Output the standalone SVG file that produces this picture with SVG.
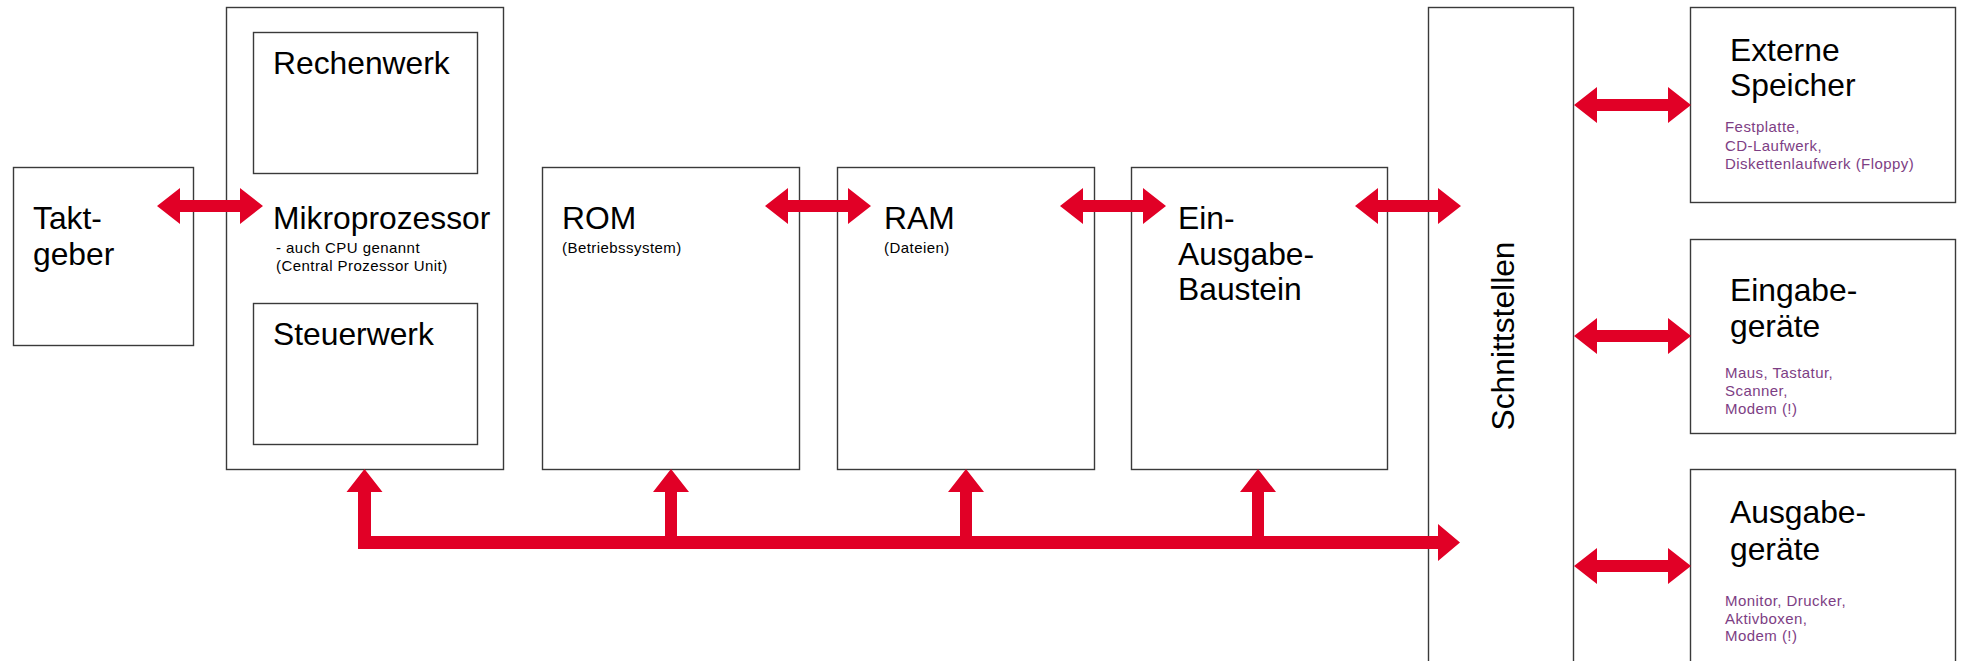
<svg xmlns="http://www.w3.org/2000/svg" width="1964" height="661" viewBox="0 0 1964 661">
<style>
.box{fill:#fff;stroke:#3a3a3a;stroke-width:1.4}
.big{font-family:"Liberation Sans",Arial,sans-serif;font-size:31.8px;fill:#000}
.small{font-family:"Liberation Sans",Arial,sans-serif;font-size:15px;fill:#000;letter-spacing:0.45px}
.purple{font-family:"Liberation Sans",Arial,sans-serif;font-size:15px;fill:#7d3e84;letter-spacing:0.45px}
.arr{fill:#e10026;stroke:none}
</style>
<rect width="1964" height="661" fill="#fff"/>
<g id="taktgeber">
<rect class="box" x="13.5" y="167.5" width="180" height="178"/>
<text class="big" x="33" y="229">Takt-</text>
<text class="big" x="33" y="265">geber</text>
</g>
<g id="mikroprozessor">
<rect class="box" x="226.5" y="7.5" width="277" height="462"/>
<text class="big" x="273" y="229">Mikroprozessor</text>
<text class="small" x="276" y="253">- auch CPU genannt</text>
<text class="small" x="276" y="271">(Central Prozessor Unit)</text>
</g>
<g id="rechenwerk">
<rect class="box" x="253.5" y="32.5" width="224" height="141"/>
<text class="big" x="273" y="74">Rechenwerk</text>
</g>
<g id="steuerwerk">
<rect class="box" x="253.5" y="303.5" width="224" height="141"/>
<text class="big" x="273" y="345">Steuerwerk</text>
</g>
<g id="rom">
<rect class="box" x="542.5" y="167.5" width="257" height="302"/>
<text class="big" x="562" y="229">ROM</text>
<text class="small" x="562" y="253">(Betriebssystem)</text>
</g>
<g id="ram">
<rect class="box" x="837.5" y="167.5" width="257" height="302"/>
<text class="big" x="884" y="229">RAM</text>
<text class="small" x="884" y="253">(Dateien)</text>
</g>
<g id="ein-ausgabe-baustein">
<rect class="box" x="1131.5" y="167.5" width="256" height="302"/>
<text class="big" x="1178" y="229">Ein-</text>
<text class="big" x="1178" y="264.5">Ausgabe-</text>
<text class="big" x="1178" y="300">Baustein</text>
</g>
<g id="schnittstellen">
<rect class="box" x="1428.5" y="7.5" width="145" height="700"/>
<text class="big" x="1514" y="336" text-anchor="middle" transform="rotate(-90 1514 336)">Schnittstellen</text>
</g>
<g id="externe-speicher">
<rect class="box" x="1690.5" y="7.5" width="265" height="195"/>
<text class="big" x="1730" y="61">Externe</text>
<text class="big" x="1730" y="96">Speicher</text>
<text class="purple" x="1725" y="132">Festplatte,</text>
<text class="purple" x="1725" y="150.5">CD-Laufwerk,</text>
<text class="purple" x="1725" y="169">Diskettenlaufwerk (Floppy)</text>
</g>
<g id="eingabegeraete">
<rect class="box" x="1690.5" y="239.5" width="265" height="194"/>
<text class="big" x="1730" y="301">Eingabe-</text>
<text class="big" x="1730" y="337">geräte</text>
<text class="purple" x="1725" y="378">Maus, Tastatur,</text>
<text class="purple" x="1725" y="396">Scanner,</text>
<text class="purple" x="1725" y="414">Modem (!)</text>
</g>
<g id="ausgabegeraete">
<rect class="box" x="1690.5" y="469.5" width="265" height="250"/>
<text class="big" x="1730" y="523">Ausgabe-</text>
<text class="big" x="1730" y="560">geräte</text>
<text class="purple" x="1725" y="606">Monitor, Drucker,</text>
<text class="purple" x="1725" y="624">Aktivboxen,</text>
<text class="purple" x="1725" y="641">Modem (!)</text>
</g>
<g id="connectors">
<polygon class="arr" points="157,206 180,188 180,200 240,200 240,188 263,206 240,224 240,212 180,212 180,224"/>
<polygon class="arr" points="765,206 788,188 788,200 848,200 848,188 871,206 848,224 848,212 788,212 788,224"/>
<polygon class="arr" points="1060,206 1083,188 1083,200 1143,200 1143,188 1166,206 1143,224 1143,212 1083,212 1083,224"/>
<polygon class="arr" points="1355,206 1378,188 1378,200 1438,200 1438,188 1461,206 1438,224 1438,212 1378,212 1378,224"/>
<polygon class="arr" points="1574,105 1597,87 1597,99 1668,99 1668,87 1691,105 1668,123 1668,111 1597,111 1597,123"/>
<polygon class="arr" points="1574,336 1597,318 1597,330 1668,330 1668,318 1691,336 1668,354 1668,342 1597,342 1597,354"/>
<polygon class="arr" points="1574,566 1597,548 1597,560 1668,560 1668,548 1691,566 1668,584 1668,572 1597,572 1597,584"/>
<polygon class="arr" points="364.5,469 382.5,492 371,492 371,536 665,536 665,492 653,492 671,469 689,492 677,492 677,536 960,536 960,492 948,492 966,469 984,492 972,492 972,536 1252,536 1252,492 1240,492 1258,469 1276,492 1264,492 1264,536 1438,536 1438,524 1460,542.5 1438,561 1438,549 358,549 358,492 346.5,492"/>
</g>
</svg>
